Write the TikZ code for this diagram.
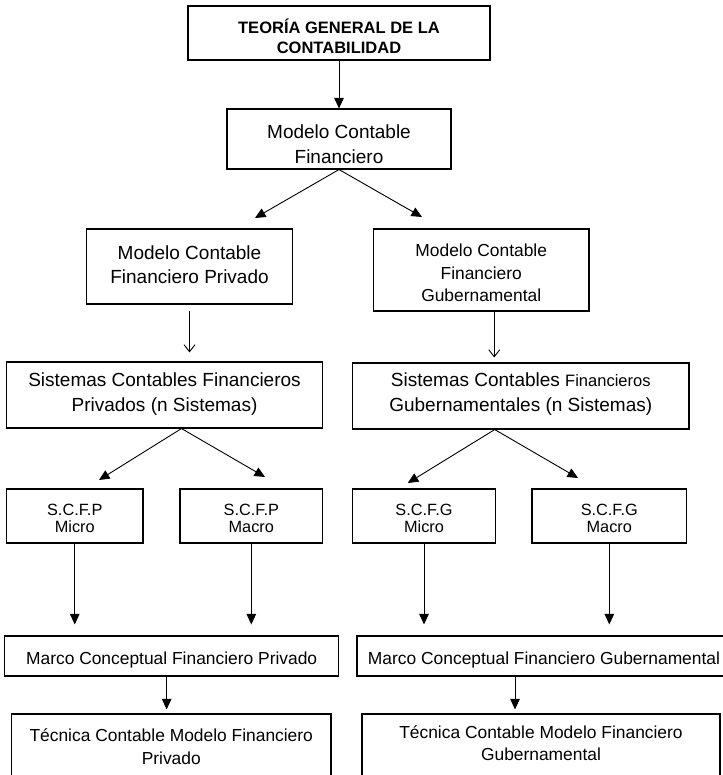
\documentclass[tikz,border=0pt]{standalone}
\usepackage{fontspec}
\setmainfont{Liberation Sans}
\usetikzlibrary{arrows.meta}
\begin{document}
\begin{tikzpicture}[x=1pt,y=-1pt,
  box/.style={draw, line width=1.1pt, inner sep=0pt},
  lbl/.style={align=center, inner sep=0pt},
  tbold/.style={font=\bfseries\fontsize{16.5}{20}\selectfont},
  tbig/.style={font=\fontsize{19}{24.5}\selectfont},
  tmid/.style={font=\fontsize{17.4}{22.5}\selectfont},
  tsmall/.style={font=\fontsize{16.3}{17}\selectfont},
  arr/.style={line width=0.9pt, -{Triangle[length=10.5pt,width=9.5pt]}},
  barb/.style={line width=0.9pt, -{Straight Barb[length=7pt,width=11pt]}},
]
\useasboundingbox (0,0) rectangle (722,775);

% level 1: general theory
\node[box, minimum width=302, minimum height=54,
  label={[lbl,tbold,yshift=-3]center:{TEORÍA GENERAL DE LA\\CONTABILIDAD}}] (teoria) at (339,33) {};

% level 2: financial accounting model
\node[box, minimum width=224, minimum height=60,
  label={[lbl,tbig,yshift=-5]center:{Modelo Contable\\Financiero}}] (mcf) at (339,139) {};

% level 3: private and governmental models
\node[box, minimum width=206, minimum height=75,
  label={[lbl,tbig,yshift=2]center:{Modelo Contable\\Financiero Privado}}] (mcfp) at (189.5,266.5) {};
\node[box, minimum width=215.5, minimum height=82,
  label={[lbl,tmid,yshift=-3]center:{Modelo Contable\\Financiero\\Gubernamental}}] (mcfg) at (481.25,270) {};

% level 4: accounting systems
\node[box, minimum width=316, minimum height=66,
  label={[lbl,tbig,yshift=1]center:{Sistemas Contables Financieros\\Privados (n Sistemas)}}] (scp) at (164.5,395) {};
\node[box, minimum width=336.5, minimum height=66,
  label={[lbl,tbig,yshift=2]center:{Sistemas Contables {\fontsize{16.5}{24.5}\selectfont Financieros}\\Gubernamentales (n Sistemas)}}] (scg) at (520.75,396) {};

% level 5: micro / macro
\node[box, minimum width=136.5, minimum height=54,
  label={[lbl,tsmall,yshift=-2.5]center:{S.C.F.P\\Micro}}] (pmicro) at (74.75,516) {};
\node[box, minimum width=142.6, minimum height=54,
  label={[lbl,tsmall,yshift=-2.5]center:{S.C.F.P\\Macro}}] (pmacro) at (251.3,516) {};
\node[box, minimum width=143, minimum height=54,
  label={[lbl,tsmall,yshift=-2.5]center:{S.C.F.G\\Micro}}] (gmicro) at (424,516) {};
\node[box, minimum width=154.6, minimum height=54,
  label={[lbl,tsmall,yshift=-2.5]center:{S.C.F.G\\Macro}}] (gmacro) at (609.3,516) {};

% level 6: conceptual frameworks
\node[box, minimum width=334, minimum height=40,
  label={[lbl,tmid,yshift=-4]center:{Marco Conceptual Financiero Privado}}] (marcop) at (171.65,656) {};
\node[box, minimum width=374, minimum height=40,
  label={[lbl,tmid,yshift=-4]center:{Marco Conceptual Financiero Gubernamental}}] (marcog) at (544,656) {};

% level 7: accounting techniques
\node[box, minimum width=319.5, minimum height=86,
  label={[lbl,tmid,yshift=10.5]center:{Técnica Contable Modelo Financiero\\Privado}}] (tecp) at (171.25,757) {};
\node[box, minimum width=358, minimum height=86,
  label={[lbl,tmid,yshift=14]center:{Técnica Contable Modelo Financiero\\Gubernamental}}] (tecg) at (541,757) {};

% free ends of the diagonal connectors
\coordinate (d1) at (255,218);
\coordinate (d2) at (422,217);
\coordinate (d3) at (99,480);
\coordinate (d4) at (265,477);
\coordinate (d5) at (407.8,483);
\coordinate (d6) at (578,478);

% connectors
\draw[arr] (teoria.south) -- (mcf.north);
\draw[arr] (mcf.south) -- (d1);
\draw[arr] (mcf.south) -- (d2);

\draw[barb, shorten <=6pt, shorten >=9pt] (mcfp.south) -- (mcfp.south |- scp.north);
\draw[barb, shorten >=5pt] ([xshift=13pt]mcfg.south) -- ([xshift=13pt]mcfg.south |- scg.north);

\draw[arr] ([xshift=17pt]scp.south) -- (d3);
\draw[arr] ([xshift=17pt]scp.south) -- (d4);
\draw[arr] ([xshift=-26pt]scg.south) -- (d5);
\draw[arr] ([xshift=-26pt]scg.south) -- (d6);

\draw[arr, shorten >=11pt] (pmicro.south) -- (pmicro.south |- marcop.north);
\draw[arr, shorten >=11pt] (pmacro.south) -- (pmacro.south |- marcop.north);
\draw[arr, shorten >=11pt] (gmicro.south) -- (gmicro.south |- marcog.north);
\draw[arr, shorten >=11pt] (gmacro.south) -- (gmacro.south |- marcog.north);

\draw[arr, shorten >=4pt] ([xshift=-5pt]marcop.south) -- ([xshift=-5pt]marcop.south |- tecp.north);
\draw[arr, shorten >=4pt] ([xshift=-29pt]marcog.south) -- ([xshift=-29pt]marcog.south |- tecg.north);
\end{tikzpicture}
\end{document}
